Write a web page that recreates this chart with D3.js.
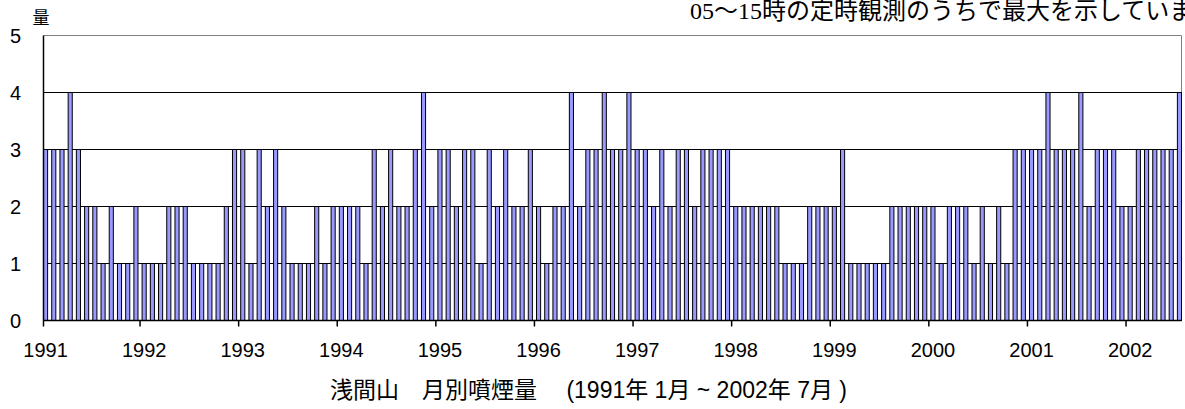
<!DOCTYPE html>
<html>
<head>
<meta charset="utf-8">
<script src="https://cdn.jsdelivr.net/npm/d3@7"></script>
<style>
  body { margin: 0; background: #fff; }
  svg { display: block; }
</style>
</head>
<body>
<svg id="chart" width="1185" height="409"></svg>
<script>
// year tick labels, one per 12 months
const yearLabels = ["1991", "1992", "1993", "1994", "1995", "1996", "1997", "1998", "1999", "2000", "2001", "2002"];

// monthly smoke amount, 1991/01 - 2002/07
const smoke = [
  3, 3, 3, 4, 3, 2, 2, 1, 2, 1, 1, 2,   // 1991
  1, 1, 1, 2, 2, 2, 1, 1, 1, 1, 2, 3,   // 1992
  3, 1, 3, 2, 3, 2, 1, 1, 1, 2, 1, 2,   // 1993
  2, 2, 2, 1, 3, 2, 3, 2, 2, 3, 4, 2,   // 1994
  3, 3, 2, 3, 3, 1, 3, 2, 3, 2, 2, 3,   // 1995
  2, 1, 2, 2, 4, 2, 3, 3, 4, 3, 3, 4,   // 1996
  3, 3, 2, 3, 2, 3, 3, 2, 3, 3, 3, 3,   // 1997
  2, 2, 2, 2, 2, 2, 1, 1, 1, 2, 2, 2,   // 1998
  2, 3, 1, 1, 1, 1, 1, 2, 2, 2, 2, 2,   // 1999
  2, 1, 2, 2, 2, 1, 2, 1, 2, 1, 3, 3,   // 2000
  3, 3, 4, 3, 3, 3, 4, 2, 3, 3, 3, 2,   // 2001
  2, 3, 3, 3, 3, 3, 4                   // 2002
];

// y ticks
const yTicks = [0, 1, 2, 3, 4, 5];

const titleText = "浅間山\u3000月別噴煙量\u3000 (1991年 1月 ~ 2002年 7月 )";
const noteText = "05～15時の定時観測のうちで最大を示しています";
const yUnit = "量";

function drawSmokeChart(svgId) {
  let svg = d3.select(svgId);

  let left = 43.5, right = 1181.5;
  let top = 35.5, bottom = 320.5;

  let months = smoke.map((d, i) => i);

  let x = d3.scaleBand()
    .domain(months)
    .range([left, right])
    .paddingInner(0.5)
    .paddingOuter(0)
    .align(0);
  let y = d3.scaleLinear()
    .domain([0, 5])
    .range([bottom, top]);

  let gap = x.step() * 0.25;

  // gridlines
  svg.selectAll(".grid")
    .data(yTicks.filter(d => d > 0 && d < 5))
    .enter()
    .append("line")
    .attr("x1", left)
    .attr("x2", right)
    .attr("y1", d => y(d))
    .attr("y2", d => y(d))
    .style("stroke", "#000")
    .style("stroke-width", 1);

  // plot frame top & right (grey)
  svg.append("path")
    .attr("d", "M" + left + "," + y(5) + "H" + right + "V" + bottom)
    .style("fill", "none")
    .style("stroke", "#808080")
    .style("stroke-width", 1);

  // bars
  svg.selectAll(".bar")
    .data(smoke)
    .enter()
    .append("rect")
    .attr("x", (d, i) => x(i))
    .attr("y", d => y(d))
    .attr("width", x.bandwidth())
    .attr("height", d => y(0) - y(d))
    .style("fill", "#9999ff")
    .style("stroke", "#000")
    .style("stroke-width", 1);

  // axes lines
  svg.append("line")
    .attr("x1", left).attr("x2", left)
    .attr("y1", y(5)).attr("y2", y(0))
    .style("stroke", "#000").style("stroke-width", 1.5);
  svg.append("line")
    .attr("x1", left).attr("x2", right)
    .attr("y1", y(0)).attr("y2", y(0))
    .style("stroke", "#000").style("stroke-width", 1.5);

  // year ticks + labels
  let yearStarts = yearLabels.map((d, k) => k * 12);
  svg.selectAll(".xtick")
    .data(yearStarts)
    .enter()
    .append("line")
    .attr("x1", d => Math.max(left, x(d) - gap))
    .attr("x2", d => Math.max(left, x(d) - gap))
    .attr("y1", y(0))
    .attr("y2", y(0) + 6)
    .style("stroke", "#000")
    .style("stroke-width", 1.5);
  svg.selectAll(".xlab")
    .data(yearStarts)
    .enter()
    .append("text")
    .attr("x", d => x(d) + x.bandwidth() / 2)
    .attr("y", 357)
    .attr("text-anchor", "middle")
    .text((d, k) => yearLabels[k])
    .style("font-family", "Liberation Sans, Arial, sans-serif")
    .style("font-size", 20);

  // y labels
  svg.selectAll(".ylab")
    .data(yTicks)
    .enter()
    .append("text")
    .attr("x", 21)
    .attr("y", d => y(d))
    .attr("dy", "0.36em")
    .attr("text-anchor", "end")
    .text(d => d)
    .style("font-family", "Liberation Sans, Arial, sans-serif")
    .style("font-size", 20);

  svg.append("text")
    .attr("x", 41)
    .attr("y", 24)
    .attr("text-anchor", "middle")
    .text(yUnit)
    .style("font-family", "Noto Sans CJK JP, sans-serif")
    .style("font-size", 17);

  // note at top, runs past the right edge as in the source
  svg.append("text")
    .attr("x", 690)
    .attr("y", 19)
    .text(noteText)
    .style("font-family", "Liberation Serif, Noto Sans CJK JP, serif")
    .style("font-size", 24);

  // title
  svg.append("text")
    .attr("x", 330)
    .attr("y", 398)
    .text(titleText)
    .style("font-family", "Liberation Sans, Noto Sans CJK JP, sans-serif")
    .style("font-size", 23);
}

drawSmokeChart("#chart");
</script>
</body>
</html>
